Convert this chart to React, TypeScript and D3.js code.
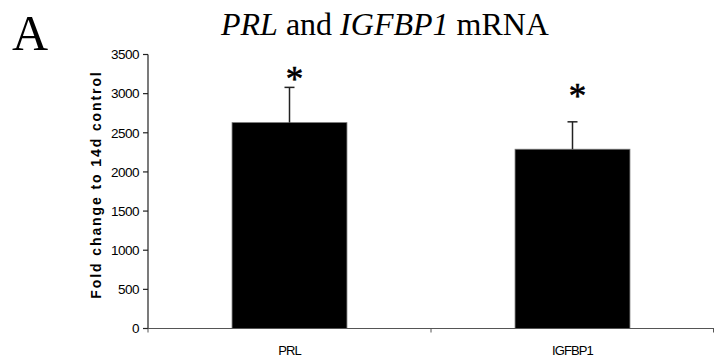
import React from "react";
import * as d3 from "d3";

const categories = ["PRL", "IGFBP1"];
const means = [2630, 2290];
const errors = [450, 350];
const starValues = [3240, 3020];
const yTicks = [0, 500, 1000, 1500, 2000, 2500, 3000, 3500];

export default function App() {
  const W = 714, H = 358;
  const left = 148, right = 714, top = 54.5, bottom = 328.5;
  const y = d3.scaleLinear().domain([0, 3500]).range([bottom, top]);
  const x = d3.scaleBand<string>().domain(categories).range([left, right]).padding(0);
  const bw = x.bandwidth() * 0.406;
  const sans = "Liberation Sans, Arial, sans-serif";
  const serif = "Liberation Serif, Times New Roman, serif";
  return (
    <svg width={W} height={H} style={{ position: "absolute", left: 0, top: 0, background: "#fff" }}>
      <text x={12} y={50} fontFamily={serif} fontSize={50}>A</text>
      <text x={385} y={35} textAnchor="middle" fontFamily={serif} fontSize={32}>
        <tspan fontStyle="italic">PRL</tspan>
        <tspan> and </tspan>
        <tspan fontStyle="italic">IGFBP1</tspan>
        <tspan> mRNA</tspan>
      </text>
      <text
        transform={`translate(101,${(72 + 297) / 2}) rotate(-90)`}
        textAnchor="middle"
        fontFamily={sans}
        fontWeight="bold"
        fontSize={14}
        letterSpacing={1.9}
      >
        Fold change to 14d control
      </text>
      {/* y axis */}
      <line x1={left} x2={left} y1={y(3500)} y2={y(0)} stroke="#222" strokeWidth={1.2} />
      {yTicks.map((t) => (
        <g key={t}>
          <line x1={left - 5} x2={left} y1={y(t)} y2={y(t)} stroke="#222" strokeWidth={1.2} />
          <text x={left - 9} y={y(t)} dy="0.35em" textAnchor="end" fontFamily={sans} fontSize={13.5} letterSpacing={-0.5}>
            {t}
          </text>
        </g>
      ))}
      {/* bars */}
      {categories.map((c, i) => {
        const cx = (x(c) as number) + x.bandwidth() / 2;
        return (
          <g key={c}>
            <rect x={cx - bw / 2} y={y(means[i])} width={bw} height={y(0) - y(means[i])} fill="#000" stroke="#777" strokeWidth={0.8} />
            <line x1={cx} x2={cx} y1={y(means[i])} y2={y(means[i] + errors[i])} stroke="#222" strokeWidth={1.5} />
            <line x1={cx - 5} x2={cx + 5} y1={y(means[i] + errors[i])} y2={y(means[i] + errors[i])} stroke="#222" strokeWidth={1.5} />
            <text x={cx + 5} y={y(starValues[i]) + 16} textAnchor="middle" fontFamily={serif} fontSize={35} stroke="#000" strokeWidth={0.6}>*</text>
            <text x={cx} y={355} textAnchor="middle" fontFamily={sans} fontSize={13} letterSpacing={-0.9}>
              {c}
            </text>
          </g>
        );
      })}
      {/* x axis */}
      <line x1={left} x2={right} y1={y(0)} y2={y(0)} stroke="#555" strokeWidth={1} />
      {[left, left + x.step(), right - 0.5].map((v, i) => (
        <line key={i} x1={v} x2={v} y1={y(0)} y2={y(0) + 4} stroke="#555" strokeWidth={1} />
      ))}
    </svg>
  );
}
